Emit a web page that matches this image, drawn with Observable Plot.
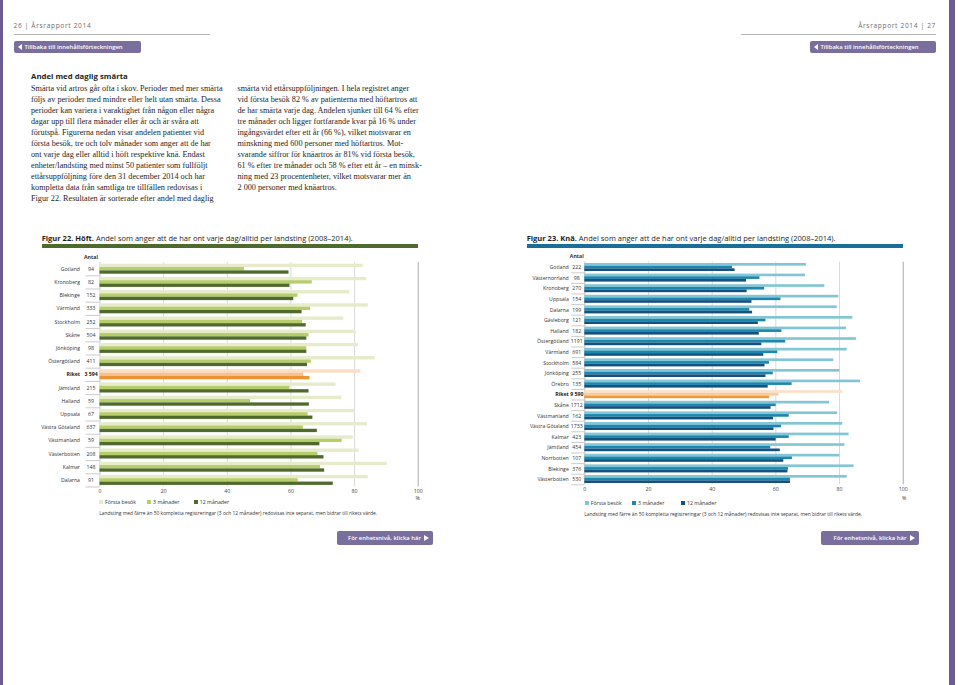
<!DOCTYPE html>
<html>
<head>
<meta charset="utf-8">
<script src="https://cdn.jsdelivr.net/npm/d3@7"></script>
<script src="https://cdn.jsdelivr.net/npm/@observablehq/plot@0.6"></script>
<style>
  html, body { margin: 0; padding: 0; background: #fff; }
  #page { position: relative; width: 960px; height: 685px; overflow: hidden; font-family: "Open Sans", sans-serif; color: #222; }
  .abs { position: absolute; white-space: nowrap; }
  .body { font-family: "Liberation Serif", serif; font-size: 8.2px; line-height: 11px; color: #1e1e1e; }
  .btn { background: #7a6e9d; color: #fff; border-radius: 2px; font-size: 5.9px; font-weight: 600; display: flex; align-items: center; }
  .tri-l { width: 0; height: 0; border-top: 3.2px solid transparent; border-bottom: 3.2px solid transparent; border-right: 4.5px solid #fff; margin: 0 3px 0 4px; }
  .tri-r { width: 0; height: 0; border-top: 3.6px solid transparent; border-bottom: 3.6px solid transparent; border-left: 5px solid #fff; margin: 0 4px 0 3px; }
  .lab { font-size: 5.2px; color: #333; line-height: 8px; }
  .sq { position: absolute; width: 4px; height: 4px; }
</style>
</head>
<body>
<div id="page"></div>
<script>
// ---------- data ----------
const hipNames = ["Gotland","Kronoberg","Blekinge","Värmland","Stockholm","Skåne","Jönköping","Östergötland","Riket","Jämtland","Halland","Uppsala","Västra Götaland","Västmanland","Västerbotten","Kalmar","Dalarna"];
const hipCounts = ["94","82","152","333","252","504","98","411","3 594","215","59","67","637","59","208","148","91"];
const hipFirst = [82.7,83.8,78.5,84.3,76.6,80.5,81.2,86.5,82,74.2,76.0,80.2,84.0,79.6,81.4,90.3,84.3];
const hip3m    = [45.4,66.7,62.2,66.2,63.7,65.7,65.0,66.4,64,59.7,47.3,65.4,63.9,76.1,68.5,69.3,62.3];
const hip12m   = [59.4,59.7,60.9,63.5,64.8,65.0,65.0,65.2,66,65.7,65.8,66.9,68.3,69.1,70.4,70.6,73.3];

const kneeNames = ["Gotland","Västernorrland","Kronoberg","Uppsala","Dalarna","Gävleborg","Halland","Östergötland","Värmland","Stockholm","Jönköping","Örebro","Riket","Skåne","Västmanland","Västra Götaland","Kalmar","Jämtland","Norrbotten","Blekinge","Västerbotten"];
const kneeCounts = ["222","98","270","154","199","121","182","1191","691","584","255","135","9 590","1712","162","1733","423","454","107","376","530"];
const kneeFirst = [69.6,69.3,75.4,79.8,79.3,84.2,82.2,85.3,82.4,78.2,80.1,86.6,81,76.9,79.4,81.0,83.0,81.7,80.1,84.6,82.4];
const knee3m    = [46.4,55.0,56.5,61.6,51.8,56.9,61.9,63.1,60.6,58.0,59.2,65.1,61,60.1,64.2,61.8,64.2,58.4,65.2,64.0,64.6];
const knee12m   = [47.2,50.8,51.0,52.5,52.7,54.5,54.8,55.6,56.2,56.6,56.9,57.6,58,58.5,59.3,59.4,60.1,61.4,62.5,63.8,64.6];

const seriesLabels = ["Första besök","3 månader","12 månader"];
const xTicks = [0,20,40,60,80,100];
const gridTicks = [20,40,60,80];
const riketName = "Riket";

const hipColors  = ["#e6ebca","#b7cd6b","#4e6b2d"];
const kneeColors = ["#82c6d5","#1c87ae","#16507f"];
const hipRiket   = ["#fcdcc2","#f6c091","#ec9536"];
const kneeRiket  = ["#fde0c6","#f8cc9c","#ec9a3a"];

const leftText = [
  "Smärta vid artros går ofta i skov. Perioder med mer smärta",
  "följs av perioder med mindre eller helt utan smärta. Dessa",
  "perioder kan variera i varaktighet från någon eller några",
  "dagar upp till flera månader eller år och är svåra att",
  "förutspå. Figurerna nedan visar andelen patienter vid",
  "första besök, tre och tolv månader som anger att de har",
  "ont varje dag eller alltid i höft respektive knä. Endast",
  "enheter/landsting med minst 50 patienter som fullföljt",
  "ettårsuppföljning före den 31 december 2014 och har",
  "kompletta data från samtliga tre tillfällen redovisas i",
  "Figur 22. Resultaten är sorterade efter andel med daglig"
];
const rightText = [
  "smärta vid ettårsuppföljningen. I hela registret anger",
  "vid första besök 82 % av patienterna med höftartros att",
  "de har smärta varje dag. Andelen sjunker till 64 % efter",
  "tre månader och ligger fortfarande kvar på 16 % under",
  "ingångsvärdet efter ett år (66 %), vilket motsvarar en",
  "minskning med 600 personer med höftartros. Mot-",
  "svarande siffror för knäartros är 81% vid första besök,",
  "61 % efter tre månader och 58 % efter ett år – en minsk-",
  "ning med 23 procentenheter, vilket motsvarar mer än",
  "2 000 personer med knäartros."
];

// ---------- page helpers ----------
const page = document.getElementById("page");
function put(content, css, cls) {
  const d = document.createElement("div");
  d.className = "abs" + (cls ? " " + cls : "");
  if (content instanceof Node) d.appendChild(content); else d.innerHTML = content;
  Object.assign(d.style, css);
  page.appendChild(d);
  return d;
}

// side strips
put("", {left: "0px", top: "0px", width: "3px", height: "685px", background: "#6a5d93"});
put("", {left: "949px", top: "0px", width: "6px", height: "685px", background: "#6a5d93"});

// header
put("26 | Årsrapport 2014", {left: "13.5px", top: "21px", fontSize: "6.6px", letterSpacing: "0.65px", color: "#6d6d6d", lineHeight: "10px"});
put("Årsrapport 2014 | 27", {right: "24px", top: "21px", fontSize: "6.6px", letterSpacing: "0.65px", color: "#6d6d6d", lineHeight: "10px"});
put("", {left: "13.5px", top: "33.5px", width: "196.5px", height: "1px", background: "#b4b4b4"});
put("", {left: "741px", top: "33.5px", width: "195px", height: "1px", background: "#b4b4b4"});
put('<span class="tri-l"></span>Tillbaka till innehållsförteckningen', {left: "13.5px", top: "40.5px", width: "127.5px", height: "12.5px"}, "btn");
put('<span class="tri-l"></span>Tillbaka till innehållsförteckningen', {left: "809.5px", top: "40.5px", width: "126.5px", height: "12.5px"}, "btn");

// section text
put("Andel med daglig smärta", {left: "31px", top: "70.5px", fontSize: "7.8px", fontWeight: "700", lineHeight: "10px", color: "#1e1e1e"});
leftText.forEach((t, i) => put(t, {left: "31px", top: (82.5 + i * 11) + "px"}, "body"));
rightText.forEach((t, i) => put(t, {left: "237.5px", top: (82.5 + i * 11) + "px"}, "body"));

// figure titles
put('<b>Figur 22. Höft.</b> Andel som anger att de har ont varje dag/alltid per landsting (2008–2014).', {left: "41.7px", top: "232.5px", fontSize: "7.5px", lineHeight: "10px", color: "#1e1e1e"});
put("", {left: "41.7px", top: "244.3px", width: "376px", height: "4px", background: "#4e6b2d"});
put('<b>Figur 23. Knä.</b> Andel som anger att de har ont varje dag/alltid per landsting (2008–2014).', {left: "526.7px", top: "232.5px", fontSize: "7.5px", lineHeight: "10px", color: "#1e1e1e"});
put("", {left: "526.7px", top: "244.3px", width: "376.6px", height: "4px", background: "#1a6f98"});

// ---------- chart ----------
function makeChart(cfg) {
  const {names, counts, first, m3, m12, pal, riket, step, band, left, top, width, mLeft, mRight, mTop, mBottom, pad, nameDx, numDx, sepLen} = cfg;
  const data = names.map((name, i) => ({name, n: counts[i], first: first[i], m3: m3[i], m12: m12[i], isRiket: name === riketName}));
  const height = mTop + names.length * step + mBottom;
  const p = 1 - band / step;
  const b = band;
  const col = k => d => d.isRiket ? riket[k] : pal[k];
  const plain = data.filter(d => !d.isRiket), bold = data.filter(d => d.isRiket);
  const svg = Plot.plot({
    width, height,
    marginTop: mTop, marginBottom: mBottom, marginLeft: mLeft, marginRight: mRight,
    style: {fontFamily: '"Open Sans", sans-serif', fontSize: "5.2px", color: "#333", background: "transparent", overflow: "visible"},
    x: {domain: [0, 100], label: null},
    y: {domain: names, paddingInner: p, paddingOuter: p / 2, round: false, label: null},
    color: {type: "identity"},
    marks: [
      Plot.ruleX(gridTicks, {stroke: "#cfcfcf", strokeWidth: 0.8}),
      Plot.ruleX([0], {stroke: "#b8b8b8", strokeWidth: 0.8}),
      Plot.ruleX([100], {stroke: "#a0a0a0", strokeWidth: 0.9}),
      Plot.barX(data, {x: "first", y: "name", fill: col(0), insetBottom: 2 * b / 3}),
      Plot.barX(data, {x: "m3", y: "name", fill: col(1), insetTop: b / 3, insetBottom: b / 3}),
      Plot.barX(data, {x: "m12", y: "name", fill: col(2), insetTop: 2 * b / 3}),
      Plot.axisX({ticks: xTicks, tickSize: 0, tickPadding: pad, fill: "#444"}),
      Plot.axisY({tickSize: sepLen, dy: step / 2, tickFormat: () => "", stroke: "#a8a8a8", strokeWidth: 0.6}),
      Plot.text(plain, {y: "name", text: "name", frameAnchor: "left", dx: nameDx, textAnchor: "end", fill: "#333"}),
      Plot.text(bold, {y: "name", text: "name", frameAnchor: "left", dx: nameDx, textAnchor: "end", fill: "#222", fontWeight: "bold"}),
      Plot.text(plain, {y: "name", text: "n", frameAnchor: "left", dx: numDx, textAnchor: "middle", fill: "#333"}),
      Plot.text(bold, {y: "name", text: "n", frameAnchor: "left", dx: numDx, textAnchor: "middle", fill: "#222", fontWeight: "bold"}),
      Plot.text(["Antal"], {frameAnchor: "top-left", dx: numDx, dy: -5.4, textAnchor: "middle", lineAnchor: "middle", fontWeight: "bold", fill: "#333"})
    ]
  });
  put(svg, {left: left + "px", top: top + "px"});
}

makeChart({
  names: hipNames, counts: hipCounts, first: hipFirst, m3: hip3m, m12: hip12m,
  pal: hipColors, riket: hipRiket, step: 13.2, band: 10.0,
  left: 0, top: 250, width: 440, mLeft: 99.5, mRight: 22.3, mTop: 12.1, mBottom: 12, pad: 2.2,
  nameDx: -20, numDx: -9, sepLen: 14
});
makeChart({
  names: kneeNames, counts: kneeCounts, first: kneeFirst, m3: knee3m, m12: knee12m,
  pal: kneeColors, riket: kneeRiket, step: 10.6, band: 8.0,
  left: 480, top: 250, width: 440, mLeft: 104.3, mRight: 17.3, mTop: 11.7, mBottom: 12, pad: 2.7,
  nameDx: -16, numDx: -8, sepLen: 13
});

// legends, % and notes
function legend(x0, y, offsets, colors) {
  seriesLabels.forEach((s, i) => {
    put("", {left: (x0 + offsets[i]) + "px", top: (y - 2) + "px", background: colors[i]}, "sq");
    put(s, {left: (x0 + offsets[i] + 5.8) + "px", top: (y - 4) + "px"}, "lab");
  });
}
legend(99.3, 502.3, [0, 48, 94.7], hipColors);
legend(585, 503.3, [0, 47.3, 96.3], kneeColors);
put("%", {left: "415.5px", top: "493.7px"}, "lab");
put("%", {left: "902px", top: "494.3px"}, "lab");
const note = "Landsting med färre än 50 kompletta registreringar (3 och 12 månader) redovisas inte separat, men bidrar till rikets värde.";
put(note, {left: "99.3px", top: "509.3px", fontSize: "4.9px"}, "lab");
put(note, {left: "584.3px", top: "510.3px", fontSize: "4.9px"}, "lab");

// bottom buttons
put('För enhetsnivå, klicka här<span class="tri-r"></span>', {left: "337px", top: "531px", width: "96px", height: "14px", justifyContent: "flex-end"}, "btn");
put('För enhetsnivå, klicka här<span class="tri-r"></span>', {left: "821px", top: "531px", width: "97.5px", height: "14px", justifyContent: "flex-end"}, "btn");
</script>
</body>
</html>
